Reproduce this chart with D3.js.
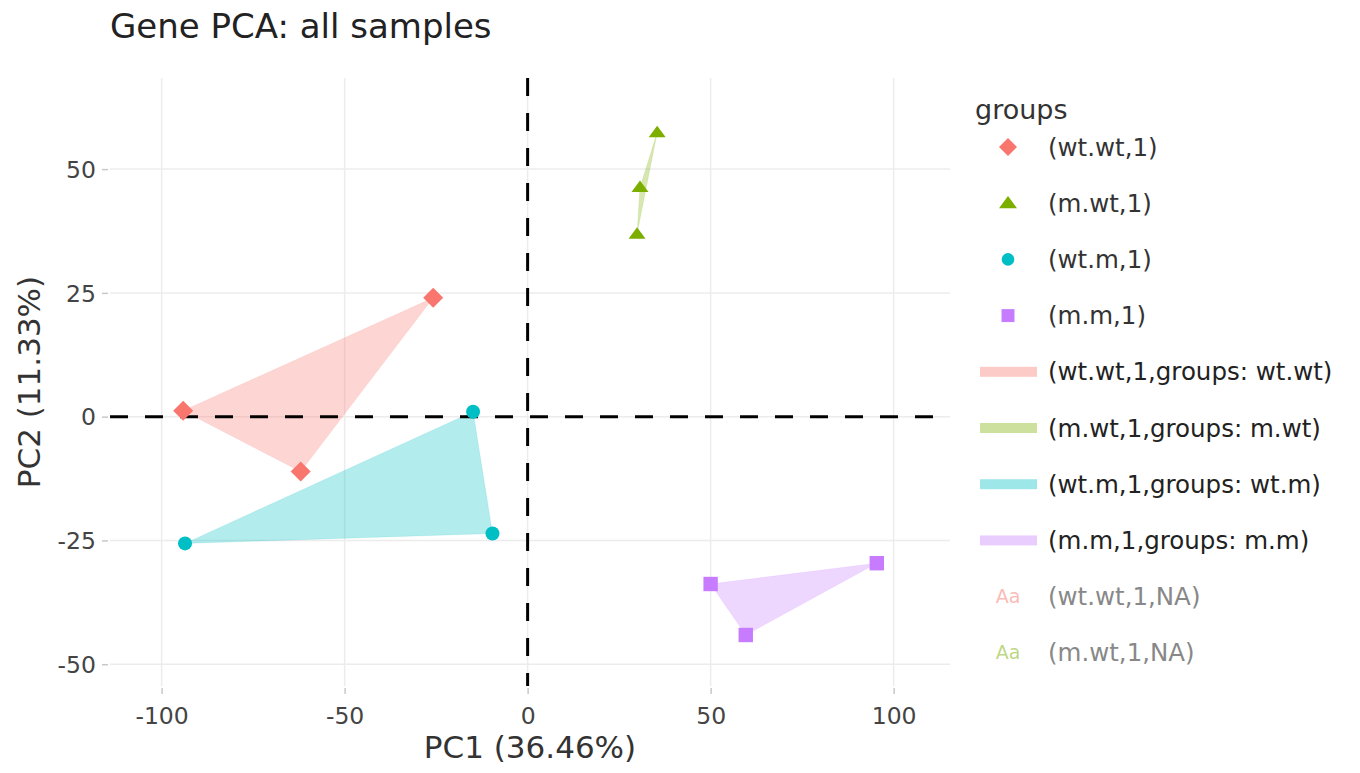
<!DOCTYPE html>
<html>
<head>
<meta charset="utf-8">
<script src="https://cdn.jsdelivr.net/npm/d3@7"></script>
<style>
  html, body { margin: 0; padding: 0; background: #fff; }
  svg text { font-family: "DejaVu Sans", Verdana, sans-serif; }
</style>
</head>
<body>
<svg id="chart" width="1360" height="773"></svg>
<script>
// PCA scores per group (PC1, PC2)
const groups = ["wt.wt", "m.wt", "wt.m", "m.m"];
const pc1 = {
  "wt.wt": [-94.1, -25.8, -62.0],
  "m.wt":  [35.4, 30.7, 29.9],
  "wt.m":  [-14.9, -9.6, -93.6],
  "m.m":   [50.0, 59.6, 95.4]
};
const pc2 = {
  "wt.wt": [1.2, 24.0, -11.1],
  "m.wt":  [57.4, 46.3, 36.9],
  "wt.m":  [1.0, -23.6, -25.6],
  "m.m":   [-33.8, -44.1, -29.6]
};
const colors = { "wt.wt": "#F8766D", "m.wt": "#7CAE00", "wt.m": "#00BFC4", "m.m": "#C77CFF" };
const symbols = { "wt.wt": "diamond", "m.wt": "triangle", "wt.m": "circle", "m.m": "square" };

const xTicks = [-100, -50, 0, 50, 100];
const yTicks = [-50, -25, 0, 25, 50];
const xDomain = [-114.1, 115.4];
const yDomain = [-54.4, 68.4];

const titleText = "Gene PCA: all samples";
const xTitle = "PC1 (36.46%)";
const yTitle = "PC2 (11.33%)";
const legendTitle = "groups";
const pointLabels = ["(wt.wt,1)", "(m.wt,1)", "(wt.m,1)", "(m.m,1)"];
const hullLabels = ["(wt.wt,1,groups: wt.wt)", "(m.wt,1,groups: m.wt)", "(wt.m,1,groups: wt.m)", "(m.m,1,groups: m.m)"];
const naLabels = [["wt.wt", "(wt.wt,1,NA)"], ["m.wt", "(m.wt,1,NA)"]];

const svg = d3.select("#chart");
const plot = { left: 110, right: 950, top: 78, bottom: 686 };

const x = d3.scaleLinear().domain(xDomain).range([plot.left, plot.right]);
const y = d3.scaleLinear().domain(yDomain).range([plot.bottom, plot.top]);

// marker shapes
function markerPath(kind, s) {
  const p = d3.path();
  if (kind === "diamond") {
    p.moveTo(0, -s); p.lineTo(s, 0); p.lineTo(0, s); p.lineTo(-s, 0); p.closePath();
  } else if (kind === "triangle") {
    p.moveTo(0, -s * 0.8); p.lineTo(s, s * 0.55); p.lineTo(-s, s * 0.55); p.closePath();
  } else if (kind === "square") {
    p.rect(-s * 0.72, -s * 0.72, s * 1.44, s * 1.44);
  } else {
    p.arc(0, 0, s * 0.7, 0, 2 * Math.PI);
  }
  return p.toString();
}
const markerSize = { diamond: 10, triangle: 8.5, square: 10, circle: 10 };
const plainNumber = d => String(d);

// grid
const grid = svg.append("g");
grid.selectAll("line.gx").data(xTicks).join("line")
  .attr("x1", d => x(d)).attr("x2", d => x(d))
  .attr("y1", plot.top).attr("y2", plot.bottom)
  .attr("stroke", "#ececec").attr("stroke-width", 1.5);
grid.selectAll("line.gy").data(yTicks).join("line")
  .attr("x1", plot.left).attr("x2", plot.right)
  .attr("y1", d => y(d)).attr("y2", d => y(d))
  .attr("stroke", "#ececec").attr("stroke-width", 1.5);

// axes
const xAxis = svg.append("g").attr("transform", `translate(0,${plot.bottom + 2})`)
  .call(d3.axisBottom(x).tickValues(xTicks).tickSize(6).tickPadding(13).tickFormat(plainNumber));
const yAxis = svg.append("g").attr("transform", `translate(${plot.left - 2},0)`)
  .call(d3.axisLeft(y).tickValues(yTicks).tickSize(6).tickPadding(6).tickFormat(plainNumber));
[xAxis, yAxis].forEach(a => {
  a.select(".domain").remove();
  a.selectAll(".tick line").attr("stroke", "#c8c8c8").attr("stroke-width", 1.5);
  a.selectAll(".tick text").attr("fill", "#444").style("font-size", "23.5px");
});
yAxis.selectAll(".tick text").attr("dy", "0.35em");

// hull polygons
groups.forEach(g => {
  const pts = pc1[g].map((v, i) => [x(v), y(pc2[g][i])]);
  const hull = d3.polygonHull(pts);
  svg.append("path")
    .attr("d", "M" + hull.map(p => p.join(",")).join("L") + "Z")
    .attr("fill", colors[g]).attr("fill-opacity", 0.3)
    .attr("stroke", colors[g]).attr("stroke-opacity", 0.12).attr("stroke-width", 1);
});

// reference lines at zero
svg.append("line")
  .attr("x1", plot.left).attr("x2", plot.right)
  .attr("y1", y(0)).attr("y2", y(0))
  .attr("stroke", "#000").attr("stroke-width", 3).attr("stroke-dasharray", "18,17");
svg.append("line")
  .attr("x1", x(0)).attr("x2", x(0))
  .attr("y1", plot.top).attr("y2", plot.bottom)
  .attr("stroke", "#000").attr("stroke-width", 3).attr("stroke-dasharray", "18,17");

// points
groups.forEach(g => {
  svg.append("g").selectAll("path").data(pc1[g].map((v, i) => [v, pc2[g][i]])).join("path")
    .attr("transform", d => `translate(${x(d[0])},${y(d[1])})`)
    .attr("d", markerPath(symbols[g], markerSize[symbols[g]]))
    .attr("fill", colors[g]);
});

// title and axis titles
svg.append("text").attr("x", 110).attr("y", 38)
  .attr("fill", "#222").style("font-size", "34px").text(titleText);
svg.append("text").attr("x", (plot.left + plot.right) / 2).attr("y", 758)
  .attr("text-anchor", "middle").attr("fill", "#333").style("font-size", "31px").text(xTitle);
svg.append("text").attr("transform", `translate(40,${(plot.top + plot.bottom) / 2}) rotate(-90)`)
  .attr("text-anchor", "middle").attr("fill", "#333").style("font-size", "31px").text(yTitle);

// legend
const leg = svg.append("g");
const rowY0 = 147, rowStep = 56.2;
leg.append("text").attr("x", 975).attr("y", 119).attr("fill", "#333")
  .style("font-size", "27px").text(legendTitle);
groups.forEach((g, i) => {
  const yy = rowY0 + i * rowStep;
  leg.append("path").attr("transform", `translate(1008,${yy})`)
    .attr("d", markerPath(symbols[g], 9)).attr("fill", colors[g]);
  leg.append("text").attr("x", 1048).attr("y", yy).attr("dy", "0.35em")
    .attr("fill", "#333").style("font-size", "24.5px").text(pointLabels[i]);
});
groups.forEach((g, i) => {
  const yy = rowY0 + (i + 4) * rowStep;
  leg.append("rect").attr("x", 980).attr("y", yy - 5).attr("width", 57).attr("height", 10)
    .attr("fill", colors[g]).attr("fill-opacity", 0.38);
  leg.append("text").attr("x", 1048).attr("y", yy).attr("dy", "0.35em")
    .attr("fill", "#222").style("font-size", "24.5px").text(hullLabels[i]);
});
naLabels.forEach((d, i) => {
  const yy = rowY0 + (i + 8) * rowStep;
  leg.append("text").attr("x", 1008).attr("y", yy).attr("dy", "0.35em").attr("text-anchor", "middle")
    .attr("fill", colors[d[0]]).attr("fill-opacity", 0.5).style("font-size", "19px").text("Aa");
  leg.append("text").attr("x", 1048).attr("y", yy).attr("dy", "0.35em")
    .attr("fill", "#888").style("font-size", "24.5px").text(d[1]);
});
</script>
</body>
</html>
